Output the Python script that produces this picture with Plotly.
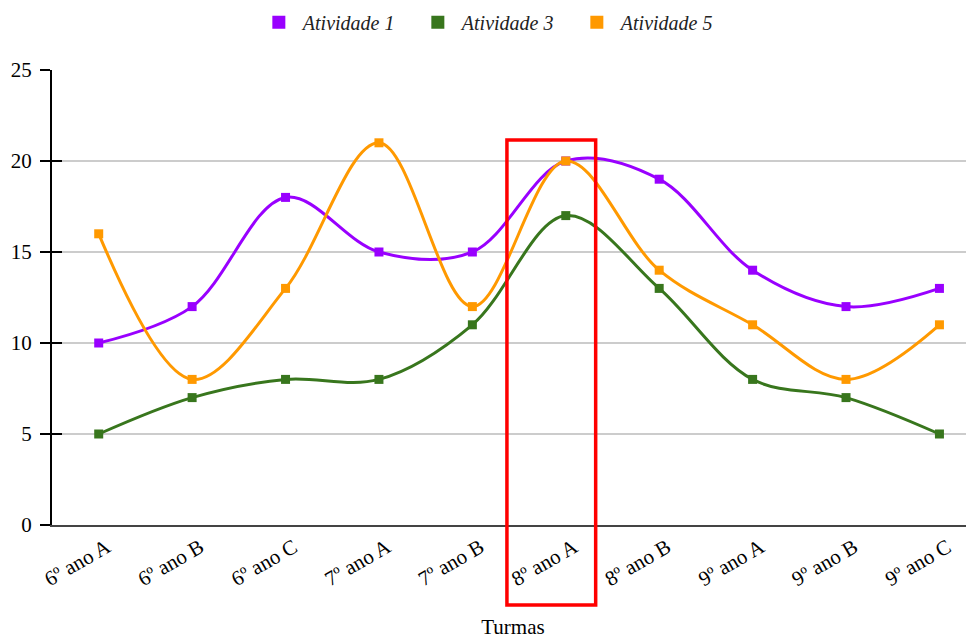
import plotly.graph_objects as go

turmas = ["6º ano A", "6º ano B", "6º ano C", "7º ano A", "7º ano B",
          "8º ano A", "8º ano B", "9º ano A", "9º ano B", "9º ano C"]
atividade1 = [10, 12, 18, 15, 15, 20, 19, 14, 12, 13]
atividade3 = [5, 7, 8, 8, 11, 17, 13, 8, 7, 5]
atividade5 = [16, 8, 13, 21, 12, 20, 14, 11, 8, 11]
yticks = [0, 5, 10, 15, 20, 25]

series = [("Atividade 1", atividade1, "#9900ff"),
          ("Atividade 3", atividade3, "#38761d"),
          ("Atividade 5", atividade5, "#ff9900")]

FONT = "Liberation Serif"
fig = go.Figure()
xs = list(range(len(turmas)))
for name, vals, color in series:
    fig.add_trace(go.Scatter(
        x=xs, y=vals, name=name, mode="lines+markers", showlegend=False,
        line=dict(color=color, width=3, shape="spline", smoothing=1.0),
        marker=dict(symbol="square", size=9, color=color),
    ))
# legend-only entries (square swatches)
for name, vals, color in series:
    fig.add_trace(go.Scatter(
        x=[None], y=[None], name=name, mode="markers", showlegend=True,
        marker=dict(symbol="square", size=13, color=color),
    ))
# invisible trace on the overlay axis so inner tick halves are drawn
fig.add_trace(go.Scatter(x=[None], y=[None], yaxis="y2", showlegend=False,
                         hoverinfo="skip"))

# highlight box around 8º ano A
hi = turmas.index("8º ano A")
fig.add_shape(type="rect", xref="x", yref="paper",
              x0=hi - 0.63, x1=hi + 0.32, y0=-0.176, y1=0.846,
              line=dict(color="#ff0000", width=3.5), fillcolor="rgba(0,0,0,0)",
              layer="above")

fig.update_layout(
    width=966, height=631,
    margin=dict(l=44, r=0, t=62, b=114, autoexpand=False),
    paper_bgcolor="white", plot_bgcolor="white",
    font=dict(family=FONT, size=21, color="#000"),
    showlegend=True,
    legend=dict(orientation="h", x=0.22, xanchor="left", y=1.105, yanchor="middle",
                font=dict(family=FONT, size=20, style="italic", color="#222"),
                entrywidth=106, entrywidthmode="pixels",
                itemwidth=38, tracegroupgap=0),
    xaxis=dict(
        tickmode="array", tickvals=xs, ticktext=turmas,
        range=[-0.5, 9.37], tickangle=-30, automargin=False,
        showgrid=False, zeroline=False,
        showline=True, linecolor="#444", linewidth=2,
        ticks="", tickfont=dict(family=FONT, size=21),
        ticklabelshift=8,
        title=dict(text="Turmas", font=dict(family=FONT, size=21), standoff=30),
    ),
    yaxis=dict(
        range=[0, 25], tickvals=yticks, automargin=False,
        showgrid=True, gridcolor="#cccccc", gridwidth=1.5,
        zeroline=False, showline=True, linecolor="#000", linewidth=2,
        ticks="outside", ticklen=10, tickwidth=2, tickcolor="#000",
        ticklabelstandoff=4,
        tickfont=dict(family=FONT, size=21),
    ),
    yaxis2=dict(
        range=[0, 25], tickvals=yticks, overlaying="y", side="left",
        automargin=False, showgrid=False, zeroline=False, showline=False,
        ticks="inside", ticklen=10, tickwidth=2, tickcolor="#000",
        showticklabels=False,
    ),
)

fig.write_html("out.html")
